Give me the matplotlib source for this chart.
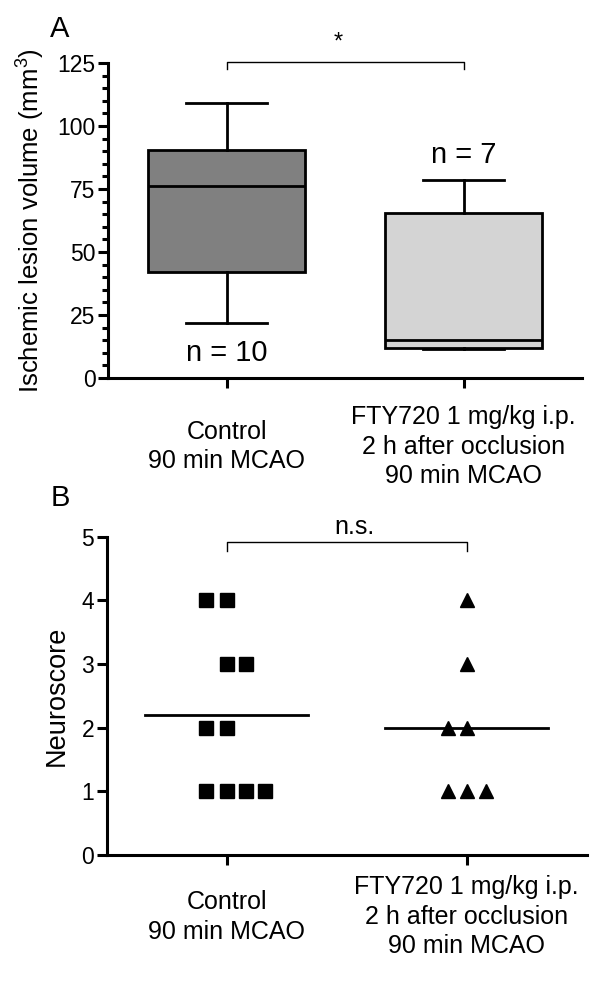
import matplotlib
matplotlib.use("Agg")
import matplotlib.pyplot as plt
from matplotlib.ticker import MultipleLocator

plt.rcParams['font.family'] = ['Liberation Sans', 'DejaVu Sans']
plt.rcParams['mathtext.default'] = 'regular'

groups = ["Control\n90 min MCAO", "FTY720 1 mg/kg i.p.\n2 h after occlusion\n90 min MCAO"]

# panel A: box plot summaries (mm^3)
whisker_low = [21.9, 11.4]
q1 = [42.2, 12.0]
median = [76.3, 15.1]
q3 = [90.5, 65.3]
whisker_high = [109.2, 78.6]
n_counts = ["n = 10", "n = 7"]
n_label_y = [10.0, 88.5]
box_colors = ["#808080", "#d4d4d4"]

# panel B: neuroscore points
control_scores = [4, 4, 3, 3, 2, 2, 1, 1, 1, 1]
control_offsets = [-0.085, 0.0, 0.0, 0.08, -0.085, 0.0, -0.085, 0.0, 0.08, 0.16]
fty_scores = [4, 3, 2, 2, 1, 1, 1]
fty_offsets = [0.0, 0.0, -0.08, 0.0, -0.08, 0.0, 0.08]

LW = 2.2

fig = plt.figure(figsize=(6, 9.83), dpi=100)
ax1 = fig.add_axes([0.18, 0.6155, 0.79, 0.3205])
ax2 = fig.add_axes([0.178, 0.1302, 0.8, 0.3238])


def style_axes(ax, xpad):
    ax.spines['top'].set_visible(False)
    ax.spines['right'].set_visible(False)
    ax.spines['left'].set_linewidth(LW)
    ax.spines['bottom'].set_linewidth(LW)
    ax.tick_params(axis='y', which='major', length=7, width=LW, labelsize=16.5, pad=2)
    ax.tick_params(axis='x', length=7.5, width=LW, pad=xpad)
    ax.set_xlim(-0.5, 1.5)
    ax.set_xticks([0, 1])
    ax.set_xticklabels(groups, fontsize=18, va='center', linespacing=1.29)


# ---- Panel A
stats = []
for i in range(2):
    stats.append(dict(whislo=whisker_low[i], q1=q1[i], med=median[i], q3=q3[i],
                      whishi=whisker_high[i], fliers=[]))
bp = ax1.bxp(stats, positions=[0, 1], widths=0.665, capwidths=0.343, patch_artist=True,
             showfliers=False,
             boxprops=dict(linewidth=2, edgecolor='black'),
             medianprops=dict(color='black', linewidth=2),
             whiskerprops=dict(color='black', linewidth=2),
             capprops=dict(color='black', linewidth=2))
for patch, c in zip(bp['boxes'], box_colors):
    patch.set_facecolor(c)

style_axes(ax1, 42)
ax1.set_ylim(0, 125)
ax1.yaxis.set_major_locator(MultipleLocator(25))
ax1.yaxis.set_minor_locator(MultipleLocator(5))
ax1.tick_params(axis='y', which='minor', length=4, width=LW)
ax1.set_ylabel("Ischemic lesion volume (mm$^3$)", fontsize=18.5)
ax1.yaxis.set_label_coords(-0.128, 0.5)
for i in range(2):
    ax1.text(i, n_label_y[i], n_counts[i], ha='center', va='center', fontsize=21)

ax1.plot([0, 0, 1, 1], [122.5, 125.5, 125.5, 122.5], color='black', lw=1, clip_on=False)
ax1.text(0.47, 133, "*", ha='center', va='center', fontsize=17)
fig.text(0.1, 0.971, "A", ha='center', va='center', fontsize=21)

# ---- Panel B
ax2.plot(control_offsets, control_scores,
         linestyle='none', marker='s', markersize=9.5, color='black')
ax2.plot([1 + o for o in fty_offsets], fty_scores,
         linestyle='none', marker='^', markersize=10, color='black')
control_mean = sum(control_scores) / len(control_scores)
fty_mean = sum(fty_scores) / len(fty_scores)
ax2.plot([-0.34, 0.34], [control_mean, control_mean], color='black', lw=2)
ax2.plot([0.66, 1.34], [fty_mean, fty_mean], color='black', lw=2)

style_axes(ax2, 37)
ax2.set_ylim(0, 5)
ax2.yaxis.set_major_locator(MultipleLocator(1))
ax2.set_ylabel("Neuroscore", fontsize=19.5)
ax2.yaxis.set_label_coords(-0.077, 0.5)

ax2.plot([0, 0, 1, 1], [4.77, 4.92, 4.92, 4.77], color='black', lw=1, clip_on=False)
ax2.text(0.53, 5.15, "n.s.", ha='center', va='center', fontsize=18)
fig.text(0.1, 0.493, "B", ha='center', va='center', fontsize=21)

fig.savefig("out.png", dpi=100)
